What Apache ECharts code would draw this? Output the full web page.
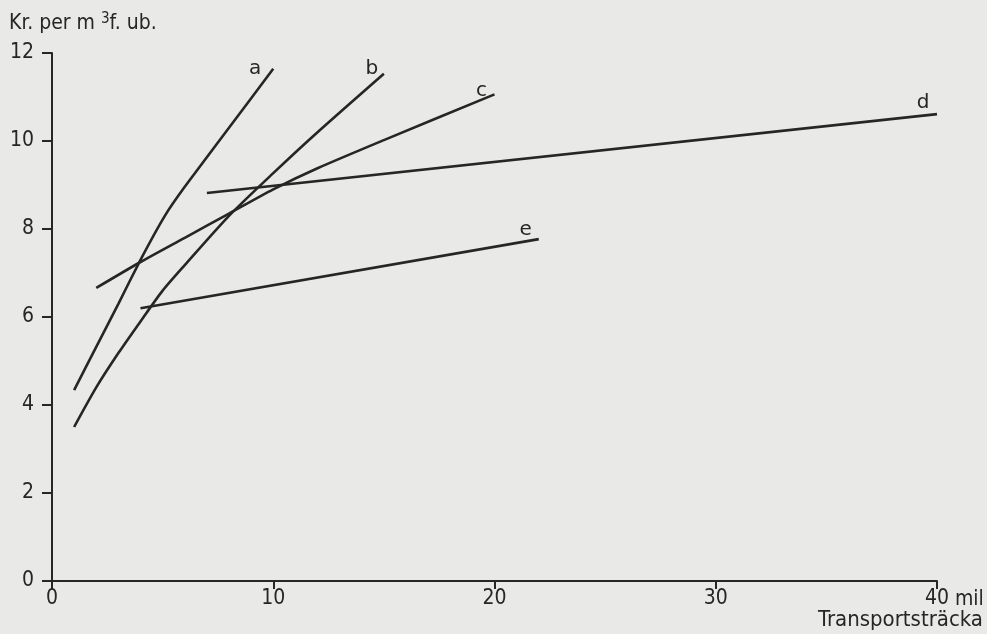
<!DOCTYPE html>
<html>
<head>
<meta charset="utf-8">
<script src="https://cdn.jsdelivr.net/npm/echarts@6/dist/echarts.min.js"></script>
<style>
  html, body { margin: 0; padding: 0; background: #e9e9e7; }
  #chart { width: 987px; height: 634px; }
</style>
</head>
<body>
<div id="chart"></div>
<script>
// ---- Data ----
const xTicks = [0, 10, 20, 30, 40];
const yTicks = [0, 2, 4, 6, 8, 10, 12];
const seriesNames = ['a', 'b', 'c', 'd', 'e'];
const lineA = [[1, 4.34], [2, 5.32], [3, 6.3], [4, 7.3], [5.1, 8.3], [6, 8.96], [8, 10.3], [10, 11.64]];
const lineB = [[1, 3.5], [2, 4.4], [3, 5.18], [4, 5.9], [5, 6.6], [6, 7.18], [8, 8.3], [10, 9.27], [12, 10.2], [15, 11.53]];
const lineC = [[2, 6.66], [4, 7.25], [6, 7.8], [8, 8.35], [10, 8.9], [12, 9.38], [15, 10.02], [20, 11.06]];
const lineD = [[7, 8.82], [40, 10.61]];
const lineE = [[4, 6.2], [22, 7.77]];
const yTitle = 'Kr. per m ';
const xUnit = 'mil';
const xTitle = 'Transportsträcka';

// ---- Styling (kept separate from data) ----
const ink = '#262626';
const fontFam = '"DejaVu Sans Condensed", "Liberation Sans Narrow", "DejaVu Sans", sans-serif';
const labelOffsets = { a: [-18, 0], b: [-12, -5], c: [-13, -4], d: [-14, -11], e: [-13, -9] };
const smoothness = { a: 0.12, b: 0.25, c: 0.25, d: 0, e: 0 };

const allLines = [lineA, lineB, lineC, lineD, lineE];

const series = [];
allLines.forEach((pts, i) => {
  const name = seriesNames[i];
  series.push({
    name: name,
    type: 'line',
    data: pts,
    smooth: smoothness[name],
    showSymbol: false,
    symbol: 'none',
    lineStyle: { color: ink, width: 2.6 },
    silent: true,
    animation: false
  });
  const last = pts[pts.length - 1];
  series.push({
    name: name + '-label',
    type: 'scatter',
    data: [{ value: last, name: name }],
    symbolSize: 1,
    itemStyle: { color: 'rgba(0,0,0,0)' },
    label: {
      show: true,
      formatter: '{b}',
      position: 'inside',
      offset: labelOffsets[name],
      color: ink,
      opacity: 1,
      fontFamily: '"DejaVu Sans", sans-serif',
      fontSize: 20
    },
    silent: true,
    animation: false
  });
});

const chart = echarts.init(document.getElementById('chart'), null, { renderer: 'canvas' });
chart.setOption({
  backgroundColor: '#e9e9e7',
  animation: false,
  grid: { left: 52, right: 50, top: 53, bottom: 53, containLabel: false },
  xAxis: {
    type: 'value',
    min: xTicks[0],
    max: xTicks[xTicks.length - 1],
    interval: 10,
    name: xUnit,
    nameLocation: 'end',
    nameGap: 14,
    nameTextStyle: { color: ink, fontFamily: fontFam, fontSize: 21, verticalAlign: 'top', padding: [8, 0, 0, 0] },
    axisLine: { show: true, onZero: false, lineStyle: { color: ink, width: 2 } },
    axisTick: { show: true, inside: false, length: 8, lineStyle: { color: ink, width: 2 } },
    axisLabel: { color: ink, fontFamily: fontFam, fontSize: 21, margin: 7 },
    splitLine: { show: false }
  },
  yAxis: {
    type: 'value',
    min: yTicks[0],
    max: yTicks[yTicks.length - 1],
    interval: 2,
    axisLine: { show: true, onZero: false, lineStyle: { color: ink, width: 2 } },
    axisTick: { show: true, inside: false, length: 10, lineStyle: { color: ink, width: 2 } },
    axisLabel: { color: ink, fontFamily: fontFam, fontSize: 21, margin: 18 },
    splitLine: { show: false }
  },
  graphic: [
    {
      type: 'text',
      left: 9,
      top: 12,
      style: {
        text: yTitle + '{sup|3}f. ub.',
        fill: ink,
        font: '21px ' + fontFam,
        rich: {
          sup: { fontSize: 15, fontFamily: fontFam, fill: ink, verticalAlign: 'top', padding: [0, 0, 9, 0] }
        }
      }
    },
    {
      type: 'text',
      right: 4,
      top: 609,
      style: { text: xTitle, fill: ink, font: '22px ' + fontFam }
    }
  ],
  series: series
});
</script>
</body>
</html>
